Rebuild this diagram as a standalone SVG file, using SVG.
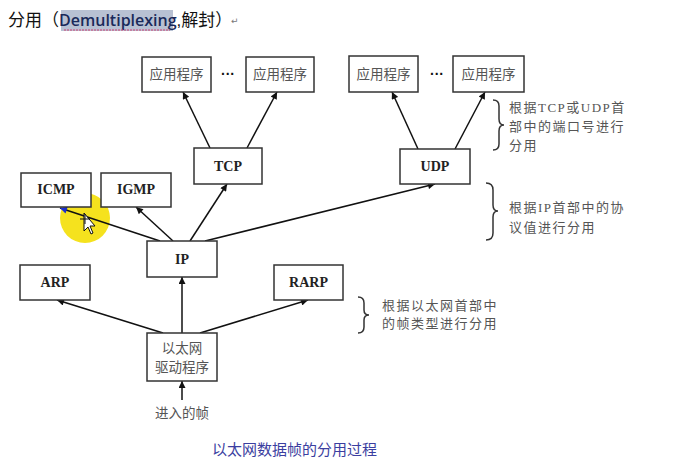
<svg xmlns="http://www.w3.org/2000/svg" width="677" height="463" viewBox="0 0 677 463">
<defs>
<marker id="ah" viewBox="0 0 10 10" refX="10" refY="5" markerWidth="9" markerHeight="7" orient="auto" markerUnits="userSpaceOnUse"><path d="M0,0 L10,5 L0,10 z" fill="#111"/></marker>
<marker id="ahb" viewBox="0 0 10 10" refX="10" refY="5" markerWidth="9" markerHeight="7" orient="auto" markerUnits="userSpaceOnUse"><path d="M0,0 L10,5 L0,10 z" fill="#1a2fd0"/></marker>
<style>
.box{fill:#fff;stroke:#333;stroke-width:1.5}
.en{font-family:"Liberation Serif",serif;font-weight:bold;font-size:14px;fill:#222;text-anchor:middle}
.cn{font-family:"Noto Sans CJK SC",sans-serif;font-size:13.5px;fill:#555;text-anchor:middle}
.note{font-family:"Liberation Serif","Noto Sans CJK SC",serif;font-size:13px;fill:#555;letter-spacing:1.5px}
.ln{stroke:#111;stroke-width:1.5;fill:none;marker-end:url(#ah)}
.br{stroke:#333;stroke-width:1.5;fill:none}
</style>
</defs>
<rect width="677" height="463" fill="#fff"/>
<rect x="61" y="10" width="112" height="21" fill="#b8c1d3"/>
<text x="8" y="26" font-family="'Liberation Sans','Noto Sans CJK SC',sans-serif" font-size="17" fill="#111">分用（<tspan font-family="'Open Sans',sans-serif" font-weight="600" font-size="16" fill="#1a2a5a">Demultiplexing</tspan>,解封）</text>
<line x1="64" y1="30" x2="170" y2="30" stroke="#d04070" stroke-width="1" stroke-dasharray="2,1"/>
<text x="231" y="24" font-family="'DejaVu Sans',sans-serif" font-size="9" fill="#777">↵</text>

<circle cx="85" cy="218" r="25" fill="#f5e21e"/>

<g id="connectors">
<line class="ln" x1="160" y1="241" x2="60" y2="208" style="marker-end:url(#ahb)"/>
<line class="ln" x1="173" y1="241" x2="136" y2="207"/>
<line class="ln" x1="190" y1="241" x2="227" y2="184"/>
<line class="ln" x1="205" y1="241" x2="435" y2="184"/>
<line class="ln" x1="210" y1="148" x2="183" y2="92"/>
<line class="ln" x1="247" y1="148" x2="277" y2="92"/>
<line class="ln" x1="418" y1="149" x2="392" y2="92"/>
<line class="ln" x1="455" y1="149" x2="485" y2="92"/>
<line class="ln" x1="163" y1="333" x2="57" y2="300"/>
<line class="ln" x1="182" y1="333" x2="182" y2="277"/>
<line class="ln" x1="200" y1="333" x2="308" y2="300"/>
<line class="ln" x1="182" y1="400" x2="182" y2="381"/>
</g>

<g id="app1"><rect class="box" x="142" y="57" width="69" height="35"/><text class="cn" x="176.5" y="79">应用程序</text></g>
<g id="app2"><rect class="box" x="246" y="57" width="68" height="35"/><text class="cn" x="280" y="79">应用程序</text></g>
<g id="app3"><rect class="box" x="349" y="56" width="69" height="36"/><text class="cn" x="383.5" y="79">应用程序</text></g>
<g id="app4"><rect class="box" x="453" y="56" width="71" height="36"/><text class="cn" x="488.5" y="79">应用程序</text></g>
<g id="dots1"><text x="228" y="79" font-family="'Liberation Sans',sans-serif" font-weight="bold" font-size="14" fill="#111" text-anchor="middle">···</text></g>
<g id="dots2"><text x="437" y="79" font-family="'Liberation Sans',sans-serif" font-weight="bold" font-size="14" fill="#111" text-anchor="middle">···</text></g>

<g id="tcp"><rect class="box" x="194" y="148" width="68" height="36"/><text class="en" x="228" y="171">TCP</text></g>
<g id="udp"><rect class="box" x="400" y="149" width="70" height="35"/><text class="en" x="435" y="171">UDP</text></g>
<g id="icmp"><rect class="box" x="21" y="173" width="70" height="34"/><text class="en" x="56" y="194">ICMP</text></g>
<g id="igmp"><rect class="box" x="101" y="173" width="70" height="34"/><text class="en" x="136" y="194">IGMP</text></g>
<g id="ip"><rect class="box" x="147" y="241" width="70" height="36"/><text class="en" x="182" y="264">IP</text></g>
<g id="arp"><rect class="box" x="20" y="265" width="70" height="35"/><text class="en" x="55" y="287">ARP</text></g>
<g id="rarp"><rect class="box" x="274" y="265" width="69" height="35"/><text class="en" x="308.5" y="287">RARP</text></g>
<g id="driver"><rect class="box" x="147" y="333" width="70" height="48"/><text class="cn" x="182" y="353">以太网</text><text class="cn" x="182" y="372">驱动程序</text></g>
<g id="input"><text class="cn" x="182" y="418">进入的帧</text></g>

<g id="note1">
<path class="br" d="M493,100 Q499,100 499,106 L499,119 Q499,125 504,125 Q499,125 499,131 L499,144 Q499,150 493,150"/>
<text class="note" x="509" y="112">根据TCP或UDP首</text>
<text class="note" x="509" y="131">部中的端口号进行</text>
<text class="note" x="509" y="150">分用</text>
</g>
<g id="note2">
<path class="br" d="M486,183 Q493,183 493,190 L493,205 Q493,211 498,211 Q493,211 493,217 L493,233 Q493,240 486,240"/>
<text class="note" x="509" y="212">根据IP首部中的协</text>
<text class="note" x="509" y="232">议值进行分用</text>
</g>
<g id="note3">
<path class="br" d="M358,297 Q364,297 364,303 L364,310 Q364,315 369,315 Q364,315 364,320 L364,327 Q364,333 358,333"/>
<text class="note" x="382" y="310">根据以太网首部中</text>
<text class="note" x="382" y="328">的帧类型进行分用</text>
</g>

<g id="cursor">
<path d="M84,213 L84,231 L88,227 L91,234 L93,233 L90,226 L95,226 Z" fill="#fff" stroke="#111" stroke-width="1"/>
<path d="M80,219 L90,219 M85,214 L85,224" stroke="#111" stroke-width="1"/>
</g>

<text x="294.5" y="455" font-family="'Noto Sans CJK SC',sans-serif" font-size="15" fill="#3b3ea0" text-anchor="middle">以太网数据帧的分用过程</text>
</svg>
